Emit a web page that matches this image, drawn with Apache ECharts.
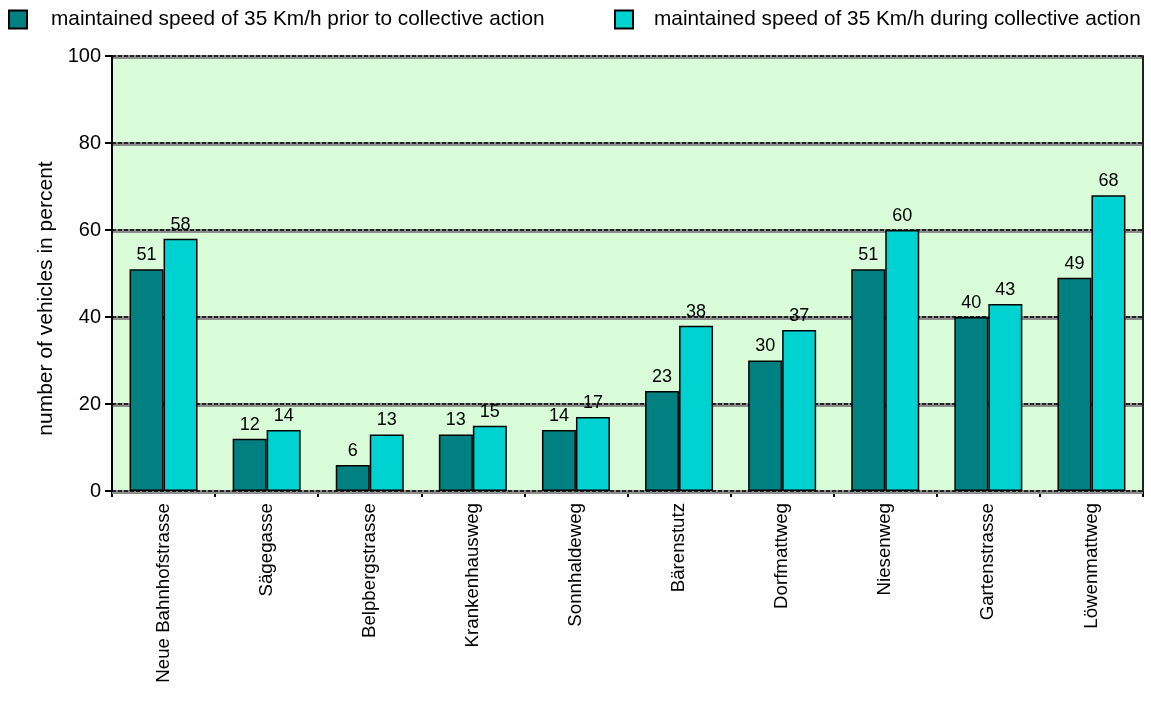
<!DOCTYPE html>
<html>
<head>
<meta charset="utf-8">
<script src="https://cdn.jsdelivr.net/npm/echarts@6/dist/echarts.min.js"></script>
<style>
  html, body { margin: 0; padding: 0; background: #fff; }
  #chart { width: 1151px; height: 704px; }
</style>
</head>
<body>
<div id="chart"></div>
<script>
// Streets measured, in display order
const streets = ['Neue Bahnhofstrasse', 'Sägegasse', 'Belpbergstrasse', 'Krankenhausweg',
  'Sonnhaldeweg', 'Bärenstutz', 'Dorfmattweg', 'Niesenweg', 'Gartenstrasse', 'Löwenmattweg'];
// Share of vehicles keeping to 35 Km/h (percent)
const priorValues = [51, 12, 6, 13, 14, 23, 30, 51, 40, 49];
const duringValues = [58, 14, 13, 15, 17, 38, 37, 60, 43, 68];
const seriesNames = ['maintained speed of 35 Km/h prior to collective action',
  'maintained speed of 35 Km/h during collective action'];
const yTicks = [0, 20, 40, 60, 80, 100];

const font = 'Liberation Sans, Arial, sans-serif';
const chart = echarts.init(document.getElementById('chart'), null, { renderer: 'canvas' });

const labelStyle = { show: true, position: 'top', distance: 5, color: '#000', fontSize: 18, fontFamily: font };
const legendBase = { itemWidth: 18, itemHeight: 18, icon: 'rect', top: 4,
  itemStyle: { borderColor: '#000', borderWidth: 2 } };

chart.setOption({
  animation: false,
  backgroundColor: '#fff',
  textStyle: { fontFamily: font },
  legend: [
    Object.assign({ data: [seriesNames[0]], left: 3,
      textStyle: { fontSize: 20.8, color: '#000', padding: [0, 0, 0, 19] } }, legendBase),
    Object.assign({ data: [seriesNames[1]], left: 609,
      textStyle: { fontSize: 20.8, color: '#000', padding: [0, 0, 0, 16] } }, legendBase)
  ],
  grid: { left: 112, right: 8, top: 56, bottom: 213, show: true, backgroundColor: '#d9fdd9', borderWidth: 0 },
  xAxis: {
    type: 'category',
    data: streets,
    axisLine: { lineStyle: { color: '#000', width: 2 } },
    axisTick: { show: true, length: 6, lineStyle: { color: '#000', width: 2 } },
    axisLabel: { rotate: 90, margin: 12, color: '#000', fontSize: 18.7, fontFamily: font }
  },
  yAxis: [
    {
      type: 'value', min: 0, max: 100, interval: 20,
      name: 'number of vehicles in percent', nameLocation: 'middle', nameGap: 52,
      nameTextStyle: { fontSize: 21, color: '#000', fontFamily: font, padding: [0, 50, 0, 0] },
      axisLine: { show: true, lineStyle: { color: '#000', width: 2 } },
      axisTick: { show: true, length: 7, lineStyle: { color: '#000', width: 2 } },
      axisLabel: { color: '#000', fontSize: 20, margin: 11, fontFamily: font,
        formatter: v => yTicks.includes(v) ? String(v) : '' },
      // soft grey line sitting just under each dashed grid line
      splitLine: { show: true, lineStyle: { color: '#8c8c8c', width: 2,
        shadowColor: '#8c8c8c', shadowOffsetY: 2, shadowBlur: 0 } },
      z: 1
    },
    {
      type: 'value', min: 0, max: 100, interval: 20, position: 'right',
      axisLine: { show: true, lineStyle: { color: '#222', width: 2 } },
      axisTick: { show: false },
      axisLabel: { show: false },
      splitLine: { show: true, lineStyle: { color: '#000', width: 1.5, type: [4, 2] } },
      z: 2
    }
  ],
  series: [
    {
      name: seriesNames[0], type: 'bar', data: priorValues,
      barWidth: 34, barGap: '0%',
      itemStyle: { color: '#008080', borderColor: '#000', borderWidth: 1.5 },
      label: labelStyle, z: 3
    },
    {
      name: seriesNames[1], type: 'bar', data: duringValues,
      barWidth: 34,
      itemStyle: { color: '#00d2d2', borderColor: '#000', borderWidth: 1.5 },
      label: labelStyle, z: 3
    }
  ]
});
</script>
</body>
</html>
